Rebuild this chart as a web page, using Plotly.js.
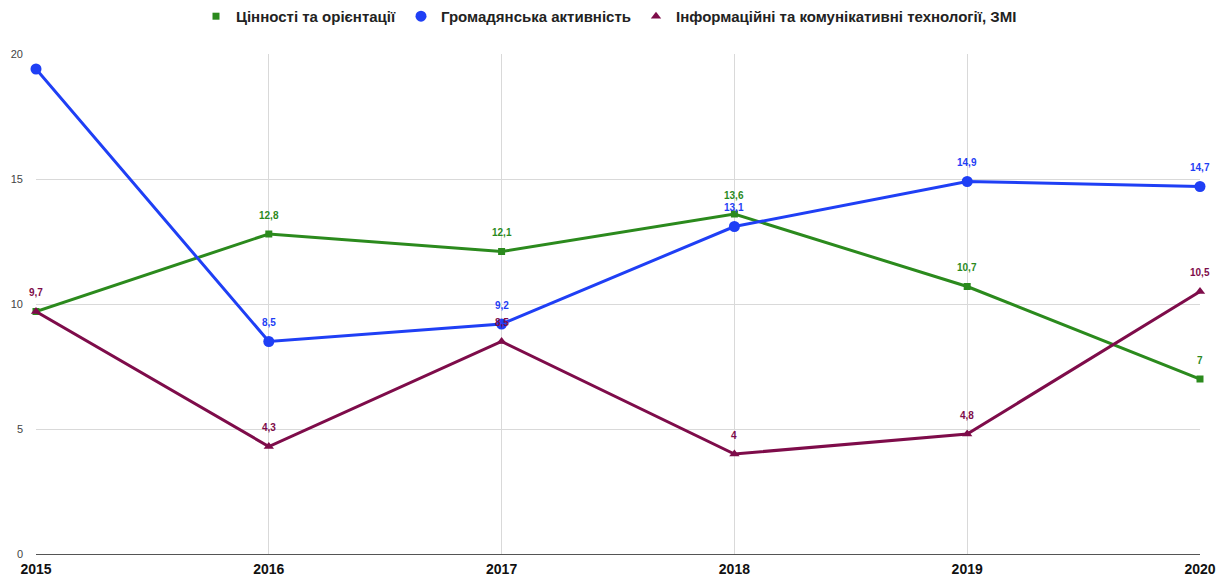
<!DOCTYPE html>
<html><head><meta charset="utf-8">
<script src="https://cdn.plot.ly/plotly-3.0.1.min.js"></script>
<style>html,body{margin:0;padding:0;background:#fff}#chart{width:1218px;height:578px}</style>
</head><body><div id="chart"></div>
<script>
const years = [2015, 2016, 2017, 2018, 2019, 2020];
const seriesNames = ['Цінності та орієнтації', 'Громадянська активність', 'Інформаційні та комунікативні технології, ЗМІ'];
const values = [
  [9.7, 12.8, 12.1, 13.6, 10.7, 7],
  [19.4, 8.5, 9.2, 13.1, 14.9, 14.7],
  [9.7, 4.3, 8.5, 4.0, 4.8, 10.5]
];
const showLabel = [
  [false, true, true, true, true, true],
  [false, true, true, true, true, true],
  [true, true, true, true, true, true]
];
const colors = ['#2b8a1d', '#1f3ff5', '#7e0c4a'];
const symbols = ['square', 'circle', 'triangle-up'];
const sizes = [7, 11, 9];

const fmt = v => String(v).replace('.', ',');
const traces = [];
const annotations = [];
values.forEach((vals, i) => {
  traces.push({
    x: years, y: vals, type: 'scatter', mode: 'lines+markers',
    name: seriesNames[i], showlegend: false,
    line: {color: colors[i], width: 3},
    marker: {color: colors[i], symbol: symbols[i], size: sizes[i]},
    cliponaxis: false, hoverinfo: 'x+y'
  });
  vals.forEach((v, j) => {
    if (!showLabel[i][j]) return;
    annotations.push({
      x: years[j], y: v, xref: 'x', yref: 'y', text: fmt(v), showarrow: false,
      yshift: 19, yanchor: 'middle', xanchor: 'center',
      font: {family: 'Liberation Sans, Arial, sans-serif', size: 10, color: colors[i], weight: 'bold'}
    });
  });
});
values.forEach((vals, i) => {
  traces.push({
    x: [null], y: [null], type: 'scatter', mode: 'markers',
    name: seriesNames[i], showlegend: true,
    marker: {color: colors[i], symbol: symbols[i], size: sizes[i]}
  });
});

const layout = {
  width: 1218, height: 578,
  margin: {l: 36, r: 18, t: 54, b: 24},
  paper_bgcolor: '#fff', plot_bgcolor: '#fff',
  font: {family: 'Liberation Sans, Arial, sans-serif', color: '#222'},
  showlegend: true,
  annotations: annotations,
  legend: {orientation: 'h', x: 0.5, xanchor: 'center', y: 0.943, yanchor: 'bottom', xref: 'container', yref: 'container',
    font: {size: 15, color: '#222', weight: 'bold'}, itemwidth: 30, traceorder: 'normal'},
  xaxis: {
    range: [2015, 2020], tickvals: years, ticktext: years.map(String),
    showgrid: true, gridcolor: '#d9d9d9', gridwidth: 1, zeroline: false,
    showline: false, ticks: '', ticklen: 0, ticklabelstandoff: 5,
    tickfont: {size: 14, color: '#111', weight: 'bold'}
  },
  yaxis: {
    range: [0, 20], tickvals: [0, 5, 10, 15, 20],
    showgrid: true, gridcolor: '#d9d9d9', gridwidth: 1,
    zeroline: true, zerolinecolor: '#555', zerolinewidth: 1,
    ticks: '', tickfont: {size: 11, color: '#444'}, ticklabelstandoff: 12
  }
};
Plotly.newPlot('chart', traces, layout, {displayModeBar: false, staticPlot: true});
</script></body></html>
